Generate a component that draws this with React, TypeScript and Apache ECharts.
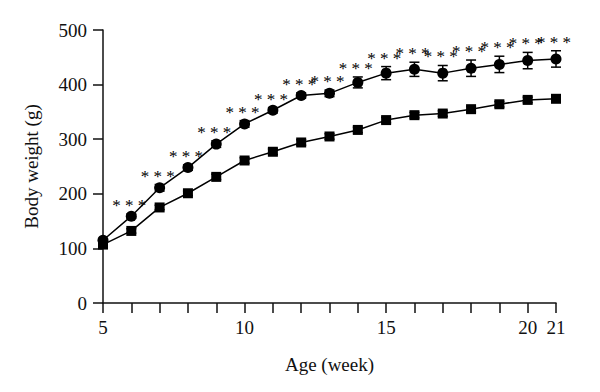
import React, { useEffect, useRef } from "react";
import * as echarts from "echarts";

const weeks = [5, 6, 7, 8, 9, 10, 11, 12, 13, 14, 15, 16, 17, 18, 19, 20, 21];
const circleValues = [115, 159, 211, 248, 291, 328, 353, 380, 384, 404, 421, 428, 421, 430, 437, 444, 447];
const circleErrors = [3, 4, 6, 5, 6, 6, 5, 5, 6, 10, 12, 13, 14, 15, 15, 15, 15];
const squareValues = [107, 132, 175, 201, 231, 261, 277, 294, 305, 317, 335, 344, 347, 355, 364, 372, 374];
const squareErrors = [3, 4, 4, 4, 5, 5, 5, 5, 5, 5, 5, 5, 5, 5, 5, 5, 5];
const significance = ["", "***", "***", "***", "***", "***", "***", "***", "***", "***", "***", "***", "***", "***", "***", "***", "***"];
const xTickLabels = [5, 10, 15, 20, 21];
const yTicks = [0, 100, 200, 300, 400, 500];

const FONT = "Liberation Serif";

function errorBarSeries(values: number[], errors: number[], z: number) {
  return {
    type: "custom",
    z,
    silent: true,
    data: weeks.map((w, i) => [w, values[i] - errors[i], values[i] + errors[i]]),
    renderItem: (params: any, api: any) => {
      const x = api.value(0);
      const lo = api.coord([x, api.value(1)]);
      const hi = api.coord([x, api.value(2)]);
      const half = 5;
      const style = { stroke: "#000", lineWidth: 1.5 };
      return {
        type: "group",
        children: [
          { type: "line", shape: { x1: lo[0], y1: lo[1], x2: hi[0], y2: hi[1] }, style },
          { type: "line", shape: { x1: lo[0] - half, y1: lo[1], x2: lo[0] + half, y2: lo[1] }, style },
          { type: "line", shape: { x1: hi[0] - half, y1: hi[1], x2: hi[0] + half, y2: hi[1] }, style },
        ],
      };
    },
  };
}

export default function App() {
  const ref = useRef<HTMLDivElement>(null);
  useEffect(() => {
    if (!ref.current) return;
    const chart = echarts.init(ref.current, undefined, { renderer: "svg" });
    const starData = weeks
      .map((w, i) => ({ value: [w, circleValues[i] + circleErrors[i]], mark: significance[i] }))
      .filter((d) => d.mark !== "");
    chart.setOption({
      animation: false,
      backgroundColor: "#fff",
      grid: { left: 103, right: 44, top: 30, bottom: 89, containLabel: false },
      xAxis: {
        type: "value",
        min: 5,
        max: 21,
        interval: 1,
        name: "Age (week)",
        nameLocation: "middle",
        nameGap: 52,
        nameTextStyle: { fontFamily: FONT, fontSize: 19, color: "#111" },
        splitLine: { show: false },
        axisLine: { show: true, onZero: false, lineStyle: { color: "#111", width: 1.5 } },
        axisTick: { show: true, length: 10, lineStyle: { color: "#111", width: 1.5 } },
        axisLabel: {
          margin: 15,
          fontFamily: FONT,
          fontSize: 19,
          color: "#111",
          formatter: (v: number) => (xTickLabels.includes(v) ? String(v) : ""),
        },
      },
      yAxis: {
        type: "value",
        min: 0,
        max: 500,
        interval: 100,
        name: "Body weight (g)",
        nameLocation: "middle",
        nameGap: 62,
        nameRotate: 90,
        nameTextStyle: { fontFamily: FONT, fontSize: 19, color: "#111" },
        splitLine: { show: false },
        axisLine: { show: true, lineStyle: { color: "#111", width: 1.5 } },
        axisTick: { show: true, length: 10, lineStyle: { color: "#111", width: 1.5 } },
        axisLabel: {
          margin: 16,
          fontFamily: FONT,
          fontSize: 19,
          color: "#111",
          formatter: (v: number) => (yTicks.includes(v) ? String(v) : ""),
        },
      },
      series: [
        errorBarSeries(squareValues, squareErrors, 1),
        errorBarSeries(circleValues, circleErrors, 1),
        {
          type: "line",
          z: 3,
          data: weeks.map((w, i) => [w, squareValues[i]]),
          symbol: "rect",
          symbolSize: 10,
          lineStyle: { color: "#000", width: 1.5 },
          itemStyle: { color: "#000" },
        },
        {
          type: "line",
          z: 3,
          data: weeks.map((w, i) => [w, circleValues[i]]),
          symbol: "circle",
          symbolSize: 11,
          lineStyle: { color: "#000", width: 1.5 },
          itemStyle: { color: "#000" },
        },
        {
          type: "scatter",
          z: 4,
          silent: true,
          symbolSize: 0,
          itemStyle: { color: "#000", opacity: 0 },
          data: starData,
          label: {
            show: true,
            position: "top",
            distance: 0,
            offset: [-2, 0],
            formatter: (p: any) => p.data.mark.split("").join(" "),
            fontFamily: FONT,
            fontSize: 17,
            color: "#000",
            textBorderWidth: 0,
            textBorderColor: "transparent",
            opacity: 1,
          },
        },
      ],
    });
    return () => chart.dispose();
  }, []);
  return <div ref={ref} style={{ width: 600, height: 392, position: "absolute", left: 0, top: 0 }} />;
}
